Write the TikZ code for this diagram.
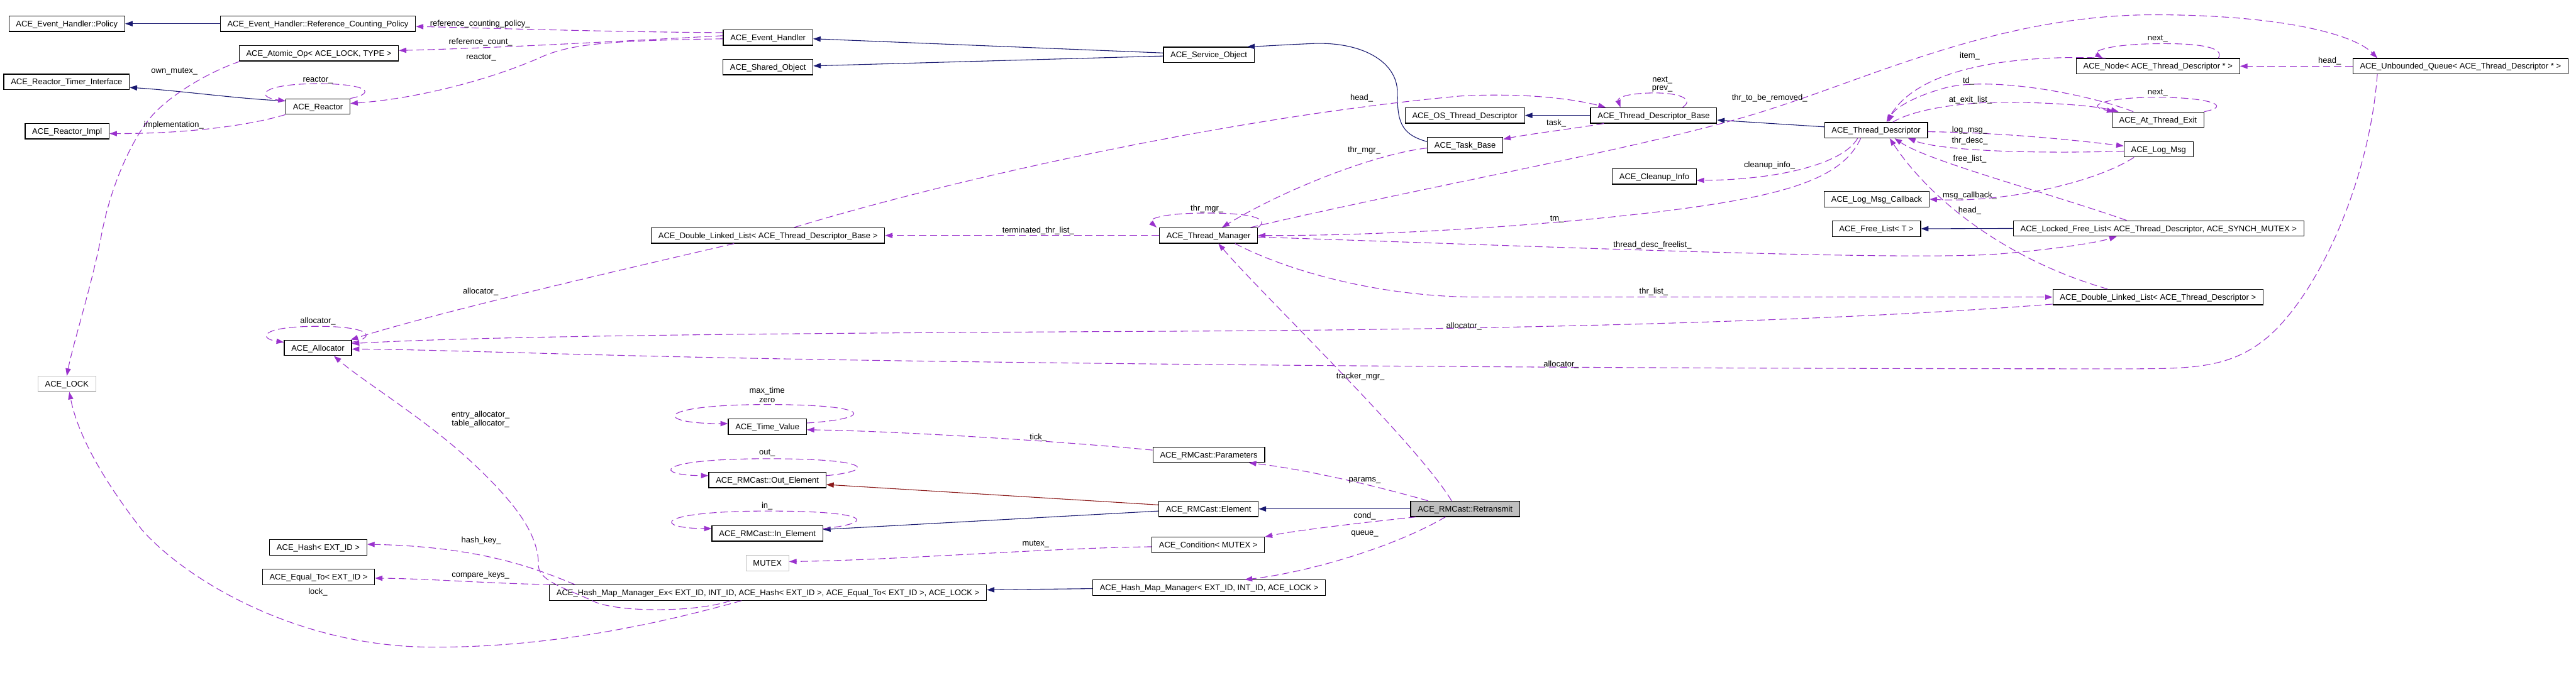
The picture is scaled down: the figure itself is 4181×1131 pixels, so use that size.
\documentclass[tikz,border=0pt]{standalone}
\usepackage{fontspec}
\setmainfont{Liberation Sans}
\usetikzlibrary{arrows.meta}
\definecolor{navy}{HTML}{191970}
\definecolor{orch}{HTML}{9A32CD}
\definecolor{fbrick}{HTML}{8B1A1A}
\definecolor{gbord}{HTML}{BFBFBF}
\tikzset{
  every node/.style={font=\fontsize{13.25}{15}\selectfont},
  cls/.style={draw=black, line width=1.3pt, fill=white, inner xsep=11.5pt, inner ysep=0pt,
    minimum height=25pt, text height=9.5pt, text depth=0pt},
  gcls/.style={cls, draw=gbord},
  hcls/.style={cls, fill=gbord},
  lbl/.style={inner sep=0pt, text=black},
  tipx/.tip={Triangle[length=12pt,width=8.5pt]},
  inh/.style={draw=navy, line width=1.1pt, -tipx},
  inhr/.style={draw=fbrick, line width=1.1pt, -tipx},
  dep/.style={draw=orch, line width=1.1pt, dash pattern=on 12pt off 6pt, -tipx}
}
\begin{document}
\begin{tikzpicture}[x=1pt,y=-1pt]
\useasboundingbox (0,0) rectangle (4181,1131);
\fill[white] (0,0) rectangle (4181,1131);
% ---------- nodes ----------
\node[cls] (pol)   at (108.5,38.5) {ACE\_Event\_Handler::Policy};
\node[cls] (rcp)   at (516,38.5)   {ACE\_Event\_Handler::Reference\_Counting\_Policy};
\node[cls] (atom)  at (517.5,86.5) {ACE\_Atomic\_Op< ACE\_LOCK, TYPE >};
\node[cls] (rti)   at (108,133)    {ACE\_Reactor\_Timer\_Interface};
\node[cls] (reac)  at (516,173)    {ACE\_Reactor};
\node[cls] (rimpl) at (109,213)    {ACE\_Reactor\_Impl};
\node[cls] (eh)    at (1246.5,61)  {ACE\_Event\_Handler};
\node[cls] (so)    at (1246.5,109) {ACE\_Shared\_Object};
\node[cls] (svc)   at (1962,89)    {ACE\_Service\_Object};
\node[cls] (ostd)  at (2377.5,187.5) {ACE\_OS\_Thread\_Descriptor};
\node[cls] (tdb)   at (2684,187.5) {ACE\_Thread\_Descriptor\_Base};
\node[cls] (task)  at (2378,235.5) {ACE\_Task\_Base};
\node[cls] (clean) at (2685,286.5) {ACE\_Cleanup\_Info};
\node[cls] (tm)    at (1961.5,382.5) {ACE\_Thread\_Manager};
\node[cls] (dllb)  at (1246.5,382.5) {ACE\_Double\_Linked\_List< ACE\_Thread\_Descriptor\_Base >};
\node[cls] (nd)    at (3502.5,107.5) {ACE\_Node< ACE\_Thread\_Descriptor * >};
\node[cls] (ate)   at (3502.5,194.5) {ACE\_At\_Thread\_Exit};
\node[cls] (td)    at (3045,211.5) {ACE\_Thread\_Descriptor};
\node[cls] (logm)  at (3503.5,242.5) {ACE\_Log\_Msg};
\node[cls] (lmc)   at (3046,323.5) {ACE\_Log\_Msg\_Callback};
\node[cls] (fl)    at (3045.5,371.5) {ACE\_Free\_List< T >};
\node[cls] (lfl)   at (3503.5,371) {ACE\_Locked\_Free\_List< ACE\_Thread\_Descriptor, ACE\_SYNCH\_MUTEX >};
\node[cls] (dlltd) at (3502.5,482.5) {ACE\_Double\_Linked\_List< ACE\_Thread\_Descriptor >};
\node[cls] (uq)    at (3993.5,107.5) {ACE\_Unbounded\_Queue< ACE\_Thread\_Descriptor * >};
\node[cls] (alloc) at (516,565) {ACE\_Allocator};
\node[gcls] (lock) at (108.5,623.5) {ACE\_LOCK};
\node[cls] (hash)  at (516.5,889) {ACE\_Hash< EXT\_ID >};
\node[cls] (eq)    at (517,937) {ACE\_Equal\_To< EXT\_ID >};
\node[cls] (hmmex) at (1246.5,962.5) {ACE\_Hash\_Map\_Manager\_Ex< EXT\_ID, INT\_ID, ACE\_Hash< EXT\_ID >, ACE\_Equal\_To< EXT\_ID >, ACE\_LOCK >};
\node[cls] (tv)    at (1245.5,693) {ACE\_Time\_Value};
\node[cls] (outel) at (1245.5,779.5) {ACE\_RMCast::Out\_Element};
\node[cls] (inel)  at (1245.5,866.5) {ACE\_RMCast::In\_Element};
\node[gcls] (mutex) at (1245.5,914.5) {MUTEX};
\node[cls] (hmm)   at (1962.5,954.5) {ACE\_Hash\_Map\_Manager< EXT\_ID, INT\_ID, ACE\_LOCK >};
\node[cls] (elem)  at (1961.5,826.5) {ACE\_RMCast::Element};
\node[cls] (params) at (1962,738.5) {ACE\_RMCast::Parameters};
\node[cls] (cond)  at (1961,885) {ACE\_Condition< MUTEX >};
\node[hcls] (retr) at (2378,826.5) {ACE\_RMCast::Retransmit};
% ---------- inheritance ----------
\draw[inh] (rcp.west) -- (pol.east);
\draw[inh] ([yshift=9pt]reac.west) .. controls (380,160) and (300,148) .. ([yshift=-9pt]rti.east);
\draw[inh] ([yshift=3pt]svc.west) -- ([yshift=-2pt]eh.east);
\draw[inh] ([yshift=-2pt]svc.west) -- ([yshift=2pt]so.east);
\draw[inh] ([yshift=5.5pt]task.west) .. controls (2272,218) and (2268,195) .. (2268,150)
   .. controls (2268,100) and (2210,66) .. (2125,71) .. controls (2080,73) and (2050,75) .. ([xshift=-12pt]svc.north east);
\draw[inh] (tdb.west) -- (ostd.east);
\draw[inh] ([yshift=5.5pt]td.west) -- ([yshift=-7.5pt]tdb.east);
\draw[inh] (lfl.west) -- (fl.east);
\draw[inhr] ([yshift=6.5pt]elem.west) -- ([yshift=-7.5pt]outel.east);
\draw[inh] ([yshift=-3.5pt]elem.west) -- ([yshift=6.5pt]inel.east);
\draw[inh] (retr.west) -- (elem.east);
\draw[inh] ([yshift=-1.5pt]hmm.west) -- ([yshift=4.5pt]hmmex.east);
% ---------- usage ----------
\draw[dep] ([yshift=8pt]eh.west) .. controls (1000,52) and (800,46) .. ([yshift=-4.5pt]rcp.east);
\draw[dep] ([yshift=3pt]eh.west) .. controls (950,70) and (800,78) .. ([yshift=4.5pt]atom.east);
\draw[dep] ([yshift=-2pt]eh.west) .. controls (1000,66) and (930,70) .. (880,92) .. controls (800,128) and (680,160) .. ([yshift=5pt]reac.east);
\draw[dep] (reac.north east) .. controls (610,152) and (600,136) .. (516,136) .. controls (420,136) and (415,158) .. ([yshift=-4pt]reac.north west);
\draw[dep] (reac.south west) .. controls (400,205) and (300,217) .. ([yshift=-4pt]rimpl.east);
\draw[dep] ([xshift=2pt]atom.south west) .. controls (330,120) and (270,160) .. (245,190)
   .. controls (215,225) and (180,300) .. (165,380) .. controls (150,460) and (118,560) .. (lock.north);
\draw[dep] ([xshift=42.5pt]dllb.north) .. controls (1550,290) and (2000,190) .. (2370,156) .. controls (2480,150) and (2560,162) .. ([xshift=-78pt]tdb.north);
\draw[dep] ([xshift=-81pt]tdb.south) .. controls (2560,208) and (2480,218) .. ([yshift=9.5pt]task.east);
\draw[dep] ([xshift=47pt]tdb.north) .. controls (2752,160) and (2722,150) .. (2680,151) .. controls (2635,152) and (2625,160) .. ([xshift=-54pt]tdb.north);
\draw[dep] ([yshift=-5pt]task.west) .. controls (2230,250) and (2080,310) .. ([xshift=22pt]tm.north);
\draw[dep] (tm.north east) .. controls (2062,355) and (2030,346) .. (1960,346) .. controls (1885,346) and (1862,356) .. ([xshift=-4pt]tm.north west);
\draw[dep] ([xshift=-12pt]tm.north east) .. controls (2350,295) and (2700,235) .. (2880,175) .. controls (3050,120) and (3250,25) .. (3494,24) .. controls (3700,24) and (3820,55) .. ([xshift=-135pt]uq.north);
\draw[dep] ([xshift=-25pt]td.south) .. controls (2990,290) and (2900,318) .. (2700,343) .. controls (2450,373) and (2200,383) .. (tm.east);
\draw[dep] ([xshift=-30pt]td.south) .. controls (2990,268) and (2880,292) .. ([yshift=-6.5pt]clean.east);
\draw[dep] ([xshift=-85pt]nd.north) .. controls (3250,88) and (3110,115) .. ([xshift=17pt]td.north);
\draw[dep] ([xshift=98pt]nd.north) .. controls (3612,76) and (3565,70) .. (3500,71) .. controls (3420,72) and (3395,84) .. ([xshift=-90pt]nd.north);
\draw[dep] ([xshift=-40pt]ate.north) .. controls (3380,150) and (3230,125) .. (3160,142) .. controls (3110,155) and (3075,175) .. ([xshift=20pt]td.north);
\draw[dep] ([xshift=27pt]td.north) .. controls (3110,175) and (3200,165) .. (3260,166) .. controls (3340,167) and (3400,172) .. ([xshift=-64pt]ate.north);
\draw[dep] (ate.north east) .. controls (3625,172) and (3585,158) .. (3500,158) .. controls (3420,158) and (3380,172) .. ([xshift=-71pt]ate.north);
\draw[dep] ([yshift=-2.5pt]td.east) .. controls (3250,215) and (3370,228) .. ([yshift=5.5pt]logm.west);
\draw[dep] ([yshift=-3pt]logm.west) .. controls (3300,250) and (3150,245) .. ([xshift=52pt]td.south);
\draw[dep] ([xshift=-52pt]lfl.north) .. controls (3320,312) and (3130,262) .. ([xshift=30pt]td.south);
\draw[dep] ([xshift=-82pt]dlltd.north) .. controls (3250,420) and (3130,320) .. ([xshift=22pt]td.south);
\draw[dep] ([xshift=-40pt]logm.south) .. controls (3400,297) and (3250,330) .. (lmc.east);
\draw[dep] (uq.west) -- (nd.east);
\draw[dep] (tm.west) -- (dllb.east);
\draw[dep] ([yshift=-2.5pt]tm.east) .. controls (2500,400) and (3100,425) .. (3250,412) .. controls (3330,405) and (3400,395) .. ([xshift=-68pt]lfl.south);
\draw[dep] ([xshift=43pt]tm.south) .. controls (2100,445) and (2250,482.5) .. (2400,482.5) -- (dlltd.west);
\draw[dep] ([yshift=-11.5pt]dlltd.west) .. controls (3000,520) and (2500,535) .. (1900,538) .. controls (1300,541) and (800,545) .. ([yshift=7pt]alloc.east);
\draw[dep] ([xshift=-135pt]uq.south) .. controls (3845,300) and (3760,480) .. (3680,548) .. controls (3620,598) and (3560,599) .. (3450,599)
   .. controls (2500,599) and (1500,590) .. (1000,577) .. controls (800,572) and (650,567) .. ([yshift=-2pt]alloc.east);
\draw[dep] ([xshift=-55pt]dllb.south) .. controls (1000,440) and (700,510) .. ([xshift=-2pt]alloc.north east);
\draw[dep] ([yshift=-4pt]alloc.north east) .. controls (612,548) and (602,530) .. (516,530) .. controls (420,530) and (420,550) .. ([yshift=-4pt]alloc.north west);
\draw[dep] ([xshift=-61pt]hmmex.south) .. controls (1130,995) and (1000,995) .. (962,976) .. controls (925,958) and (876,945) .. (874,920)
   .. controls (875,870) and (840,820) .. (765,750) .. controls (690,680) and (590,620) .. ([xshift=26pt]alloc.south);
\draw[dep] ([xshift=42pt]hmmex.north west) .. controls (880,928) and (790,888) .. ([yshift=5pt]hash.east);
\draw[dep] ([xshift=2pt]hmmex.north west) .. controls (800,948) and (700,940) .. ([yshift=-2pt]eq.east);
\draw[dep] ([xshift=-43pt]hmmex.south) .. controls (1080,1010) and (900,1052) .. (700,1051) .. controls (480,1050) and (300,940) .. (230,860)
   .. controls (160,770) and (125,700) .. ([xshift=4pt]lock.south);
\draw[dep] ([xshift=-60pt]retr.north) .. controls (2200,780) and (2100,760) .. ([xshift=65pt]params.south);
\draw[dep] ([xshift=-22pt]retr.north) .. controls (2300,720) and (2050,480) .. ([xshift=16pt]tm.south);
\draw[dep] ([xshift=-80pt]retr.south) .. controls (2200,850) and (2100,862) .. (cond.north east);
\draw[dep] ([xshift=-32pt]retr.south) .. controls (2260,890) and (2120,930) .. ([xshift=58pt]hmm.north);
\draw[dep] ([yshift=7.5pt]params.west) .. controls (1700,715) and (1450,700) .. ([yshift=-5pt]tv.east);
\draw[dep] ([yshift=6pt]tv.east) .. controls (1420,680) and (1420,657) .. (1246,657) .. controls (1060,657) and (1060,688) .. ([yshift=5pt]tv.west);
\draw[dep] ([yshift=7pt]outel.east) .. controls (1420,765) and (1420,745) .. (1246,745) .. controls (1060,745) and (1060,772) .. ([yshift=7pt]outel.west);
\draw[dep] ([yshift=8pt]inel.east) .. controls (1420,850) and (1420,830) .. (1246,830) .. controls (1060,830) and (1060,858) .. ([yshift=8pt]inel.west);
\draw[dep] ([yshift=-3pt]cond.west) .. controls (1700,890) and (1450,910) .. ([yshift=2.5pt]mutex.east);
% ---------- labels ----------
\node[lbl] (l1) at (779,39) {reference\_counting\_policy\_};
\node[lbl] (l2) at (780,68) {reference\_count\_};
\node[lbl] (l3) at (781,94) {reactor\_};
\node[lbl] (l4) at (283,116) {own\_mutex\_};
\node[lbl] (l5) at (516,130) {reactor\_};
\node[lbl] (l6) at (282,203) {implementation\_};
\node[lbl] (l7) at (2210,159) {head\_};
\node[lbl] (l8) at (2698,130) {next\_};
\node[lbl] (l9) at (2698,144) {prev\_};
\node[lbl] (l10) at (2526,200) {task\_};
\node[lbl] (l11) at (2214,244) {thr\_mgr\_};
\node[lbl] (l12) at (1959,339) {thr\_mgr\_};
\node[lbl] (l13) at (2872,159) {thr\_to\_be\_removed\_};
\node[lbl] (l14) at (2527,356) {tm\_};
\node[lbl] (l15) at (2872,269) {cleanup\_info\_};
\node[lbl] (l16) at (1685,375) {terminated\_thr\_list\_};
\node[lbl] (l17) at (3197,91) {item\_};
\node[lbl] (l18) at (3502,63) {next\_};
\node[lbl] (l19) at (3195,132) {td\_};
\node[lbl] (l20) at (3198,162) {at\_exit\_list\_};
\node[lbl] (l21) at (3502,151) {next\_};
\node[lbl] (l22) at (3197,211) {log\_msg\_};
\node[lbl] (l23) at (3197,229) {thr\_desc\_};
\node[lbl] (l24) at (3197,258) {free\_list\_};
\node[lbl] (l25) at (3197,318) {msg\_callback\_};
\node[lbl] (l26) at (3197,342) {head\_};
\node[lbl] (l27) at (3781,99) {head\_};
\node[lbl] (l28) at (2682,398) {thread\_desc\_freelist\_};
\node[lbl] (l29) at (2684,474) {thr\_list\_};
\node[lbl] (l30) at (2376,530) {allocator\_};
\node[lbl] (l31) at (2534,592) {allocator\_};
\node[lbl] (l32) at (2208,612) {tracker\_mgr\_};
\node[lbl] (l33) at (780,474) {allocator\_};
\node[lbl] (l34) at (516,522) {allocator\_};
\node[lbl] (l35) at (780,674) {entry\_allocator\_};
\node[lbl] (l36) at (780,688) {table\_allocator\_};
\node[lbl] (l37) at (781,878) {hash\_key\_};
\node[lbl] (l38) at (780,934) {compare\_keys\_};
\node[lbl] (l39) at (516,962) {lock\_};
\node[lbl] (l40) at (1245,635) {max\_time};
\node[lbl] (l41) at (1245,650) {zero};
\node[lbl] (l42) at (1685,711) {tick\_};
\node[lbl] (l43) at (1245,736) {out\_};
\node[lbl] (l44) at (1245,822) {in\_};
\node[lbl] (l45) at (1681,884) {mutex\_};
\node[lbl] (l46) at (2215,780) {params\_};
\node[lbl] (l47) at (2215,838) {cond\_};
\node[lbl] (l48) at (2215,867) {queue\_};
\end{tikzpicture}
\end{document}
